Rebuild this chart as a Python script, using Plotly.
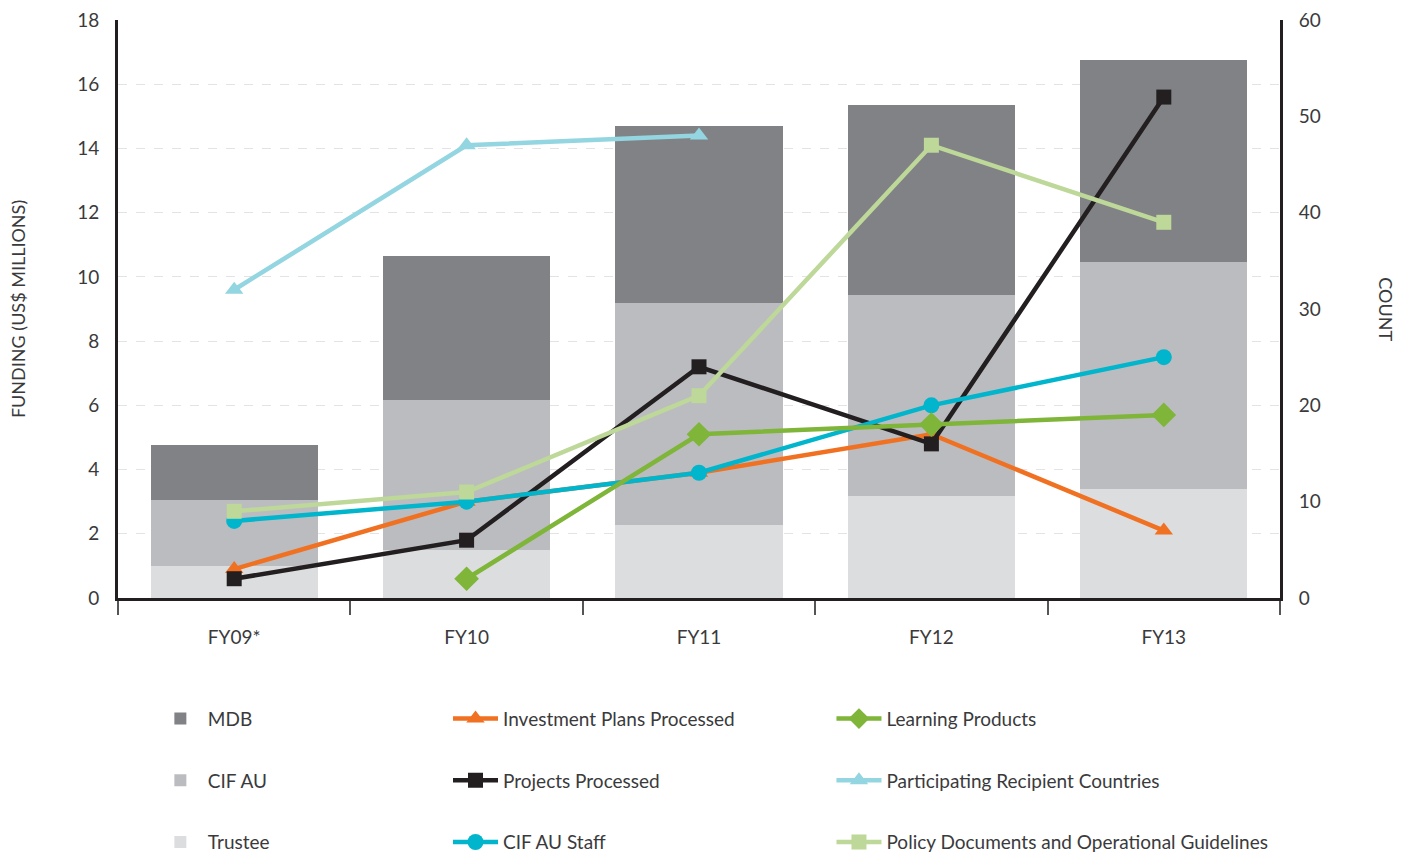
import plotly.graph_objects as go

years = ["FY09*", "FY10", "FY11", "FY12", "FY13"]

trustee = [1.0, 1.5, 2.27, 3.18, 3.4]
cif_au = [2.05, 4.67, 6.92, 6.26, 7.07]
mdb = [1.72, 4.48, 5.51, 5.92, 6.29]

investment_plans = [3, 10, 13, 17, 7]
projects = [2, 6, 24, 16, 52]
cif_staff = [8, 10, 13, 20, 25]
learning = [None, 2, 17, 18, 19]
countries = [32, 47, 48, None, None]
policy_docs = [9, 11, 21, 47, 39]

FONT = "Lato"
TXT = "#3a3a3c"

fig = go.Figure()

bar_specs = [
    ("Trustee", trustee, "#dcdddf", 3),
    ("CIF AU", cif_au, "#bbbcbf", 2),
    ("MDB", mdb, "#818285", 1),
]
for name, vals, col, rank in bar_specs:
    fig.add_trace(go.Bar(
        x=years, y=vals, name=name, marker=dict(color=col, line=dict(width=0)),
        width=0.72, legend="legend", legendgroup=name, legendrank=rank,
    ))

line_specs = [
    ("Investment Plans Processed", investment_plans, "#f07122", "triangle-up", 16, "legend2", 1),
    ("Projects Processed", projects, "#231f20", "square", 15, "legend2", 2),
    ("CIF AU Staff", cif_staff, "#00b5cc", "circle", 16, "legend2", 3),
    ("Learning Products", learning, "#7fb539", "diamond", 19, "legend3", 1),
    ("Participating Recipient Countries", countries, "#93d5e0", "triangle-up", 16, "legend3", 2),
    ("Policy Documents and Operational Guidelines", policy_docs, "#bdd898", "square", 15, "legend3", 3),
]
for name, vals, col, sym, size, leg, rank in line_specs:
    fig.add_trace(go.Scatter(
        x=years, y=vals, name=name, yaxis="y2", mode="lines+markers",
        line=dict(color=col, width=4.5), marker=dict(symbol=sym, size=size, color=col),
        legend=leg, legendgroup=name, legendrank=rank, connectgaps=False,
    ))

leg_common = dict(
    orientation="v", yanchor="top", xanchor="left", traceorder="grouped",
    font=dict(family=FONT, size=19, color=TXT),
    tracegroupgap=34, bgcolor="rgba(0,0,0,0)", itemwidth=45,
)

fig.update_layout(
    width=1412, height=857,
    margin=dict(l=118, r=132, t=20, b=259, autoexpand=False),
    paper_bgcolor="white", plot_bgcolor="white",
    barmode="stack",
    font=dict(family=FONT, size=19, color=TXT),
    xaxis=dict(
        type="category", showline=True, linecolor="#231f20", linewidth=3,
        ticks="outside", tickson="boundaries", ticklen=14, tickcolor="#555",
        tickwidth=1.5, tickfont=dict(family=FONT, size=19, color=TXT),
        showgrid=False, zeroline=False, ticklabelstandoff=20,
    ),
    yaxis=dict(
        range=[0, 18], dtick=2, showline=True, linecolor="#231f20", linewidth=3,
        showgrid=True, gridcolor="#e3e3e3", griddash="dash", gridwidth=1,
        zeroline=False, ticks="", tickfont=dict(family=FONT, size=19, color=TXT),
        ticklabelstandoff=12,
    ),
    yaxis2=dict(
        range=[0, 60], dtick=10, overlaying="y", side="right", showline=True,
        linecolor="#231f20", linewidth=3, showgrid=False, zeroline=False, ticks="",
        tickfont=dict(family=FONT, size=19, color=TXT), ticklabelstandoff=12,
    ),
    legend=dict(x=0.030, y=-0.176, **leg_common),
    legend2=dict(x=0.284, y=-0.176, **leg_common),
    legend3=dict(x=0.614, y=-0.176, **leg_common),
    annotations=[
        dict(text="FUNDING (US$ MILLIONS)", xref="paper", yref="paper", x=-0.086, y=0.5,
             xanchor="center", yanchor="middle",
             textangle=-90, showarrow=False, font=dict(family=FONT, size=18, color=TXT)),
        dict(text="COUNT", xref="paper", yref="paper", x=1.091, y=0.5,
             xanchor="center", yanchor="middle",
             textangle=90, showarrow=False, font=dict(family=FONT, size=18, color=TXT)),
    ],
)

fig.write_html("out.html")
